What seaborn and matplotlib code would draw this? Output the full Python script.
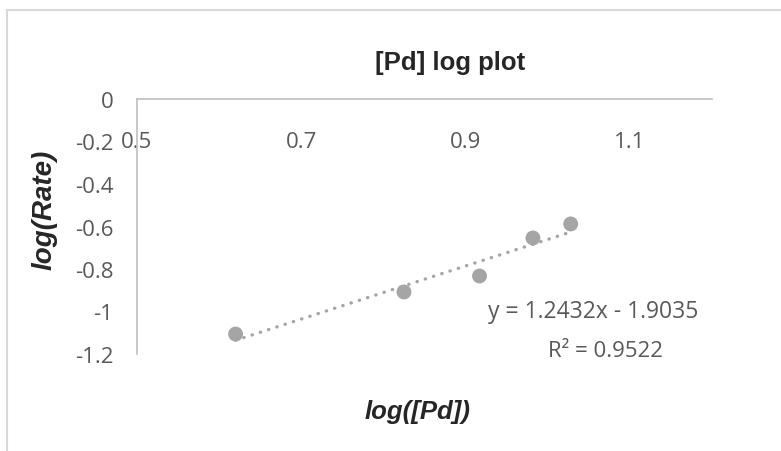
import pandas as pd
import matplotlib.pyplot as plt
import seaborn as sns
from matplotlib.patches import Rectangle

# values
log_pd = [0.620, 0.825, 0.917, 0.982, 1.028]
log_rate = [-1.106, -0.908, -0.833, -0.654, -0.588]
x_ticks = [0.5, 0.7, 0.9, 1.1]
x_tick_labels = ['0.5', '0.7', '0.9', '1.1']
y_ticks = [0, -0.2, -0.4, -0.6, -0.8, -1, -1.2]
y_tick_labels = ['0', '-0.2', '-0.4', '-0.6', '-0.8', '-1', '-1.2']
title = '[Pd] log plot'
x_label = 'log([Pd])'
y_label = 'log(Rate)'
eq_text = 'y = 1.2432x - 1.9035'
r2_text = 'R² = 0.9522'

W, H = 781, 452
sns.set_style('white')
plt.rcParams['font.family'] = ['Open Sans', 'DejaVu Sans']

df = pd.DataFrame({'log_pd': log_pd, 'log_rate': log_rate})

fig = plt.figure(figsize=(W / 100, H / 100), dpi=100)
ax = fig.add_axes([137 / W, 1 - 355 / H, (712 - 137) / W, (355 - 100) / H])

grey = '#a5a5a5'
sns.regplot(data=df, x='log_pd', y='log_rate', scatter=False, ci=None, ax=ax,
            line_kws=dict(color=grey, lw=2.4, linestyle=(0, (0.1, 2.5)),
                          dash_capstyle='round'))
sns.scatterplot(data=df, x='log_pd', y='log_rate', ax=ax, color=grey, s=115,
                edgecolor='none', zorder=3)

ax.set_xlim(0.5, 1.2)
ax.set_ylim(-1.2, 0)
ax.set_xticks(x_ticks)
ax.set_xticklabels(x_tick_labels)
ax.set_yticks(y_ticks)
ax.set_yticklabels(y_tick_labels)
ax.set_xlabel('')
ax.set_ylabel('')

# excel style: horizontal axis crosses at y = 0 (top of plot)
ax.spines['bottom'].set_position(('data', 0))
ax.spines['top'].set_visible(False)
ax.spines['right'].set_visible(False)
for s in ['bottom', 'left']:
    ax.spines[s].set_color('#bfbfbf')
    ax.spines[s].set_linewidth(1.2)
ax.tick_params(axis='both', length=0, labelsize=16, labelcolor='#595959')
ax.tick_params(axis='x', pad=23)
ax.tick_params(axis='y', pad=17)

fig.text(450 / W, 1 - 70 / H, title, ha='center', va='baseline', fontsize=18.5,
         fontweight='bold', family='Liberation Sans')
fig.text(418 / W, 1 - 412 / H, x_label, ha='center', va='center', fontsize=18.5,
         fontweight='bold', fontstyle='italic', family='Liberation Sans')
fig.text(45 / W, 1 - 210 / H, y_label, ha='center', va='center', fontsize=20,
         rotation=90, fontweight='bold', fontstyle='italic', family='Liberation Sans')
fig.text(593 / W, 1 - 318 / H, eq_text, ha='center', va='baseline', fontsize=16.5,
         color='#595959')
fig.text(605 / W, 1 - 357 / H, r2_text, ha='center', va='baseline', fontsize=16,
         color='#595959')

# chart area border (right and bottom edges fall outside the crop)
fig.add_artist(Rectangle((7 / W, -0.1), 1.2, 1 - 11 / H + 0.1, transform=fig.transFigure,
                         fill=False, edgecolor='#d9d9d9', lw=1.5))

fig.savefig('out.png', dpi=100)
